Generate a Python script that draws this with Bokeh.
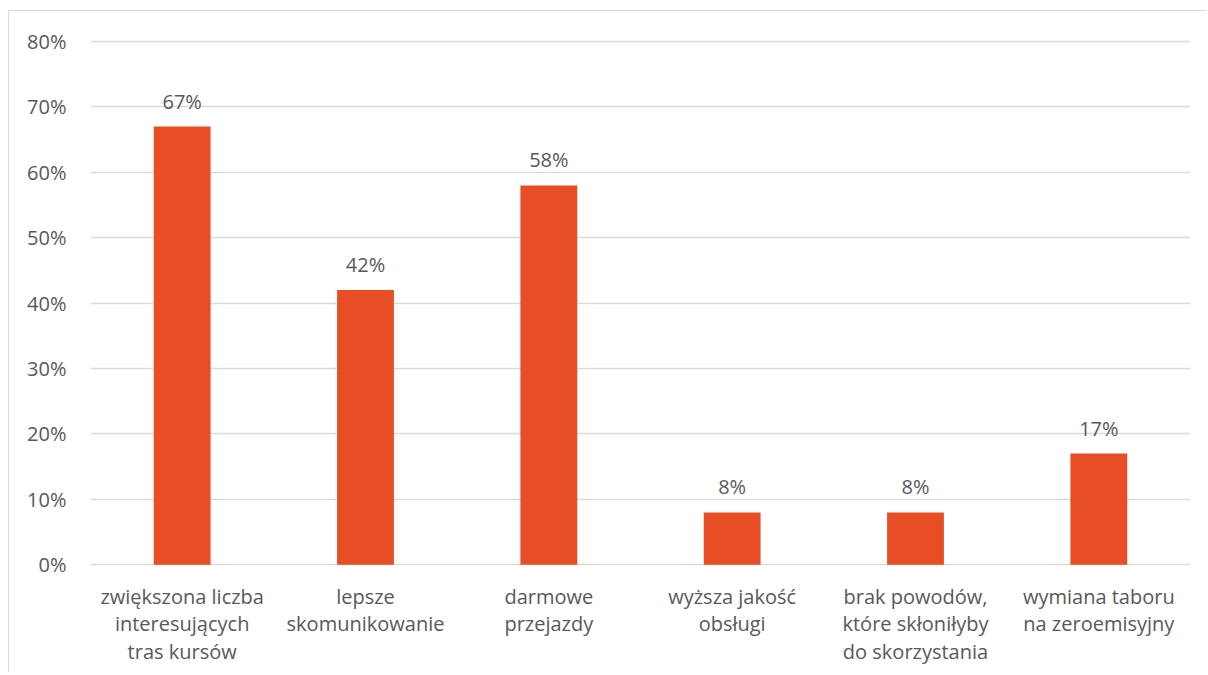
from bokeh.plotting import figure
from bokeh.models import ColumnDataSource, LabelSet, PrintfTickFormatter, FixedTicker, Range1d
from bokeh.core.properties import value
from bokeh.embed import file_html
from bokeh.resources import INLINE

categories = ["zwiększona liczba interesujących tras kursów",
              "lepsze skomunikowanie",
              "darmowe przejazdy",
              "wyższa jakość obsługi",
              "brak powodów, które skłoniłyby do skorzystania",
              "wymiana taboru na zeroemisyjny"]
tick_labels = ["zwiększona liczba\ninteresujących\ntras kursów",
               "lepsze\nskomunikowanie",
               "darmowe\nprzejazdy",
               "wyższa jakość\nobsługi",
               "brak powodów,\nktóre skłoniłyby\ndo skorzystania",
               "wymiana taboru\nna zeroemisyjny"]
values = [67, 42, 58, 8, 8, 17]
y_ticks = [0, 10, 20, 30, 40, 50, 60, 70, 80]

FONT = "Open Sans"
FS = "20px"
TXT = "#595959"
GRID = "#d9d9d9"

src = ColumnDataSource(dict(cat=categories, val=values,
                            lab=[f"{v}%" for v in values]))

# multi-line category labels, one row per text line
lc, lt, lo, ly = [], [], [], []
for c, t in zip(categories, tick_labels):
    for i, line in enumerate(t.split("\n")):
        lc.append(c)
        lt.append(line)
        lo.append(-39 - 27.5 * i)
        ly.append(0)
lsrc = ColumnDataSource(dict(cat=lc, txt=lt, off=lo, y=ly))

p = figure(x_range=categories, y_range=Range1d(-16, 80.3),
           width=1198, height=662, output_backend="svg", toolbar_location=None,
           min_border_left=81, min_border_right=17, min_border_top=28, min_border_bottom=4)
p.styles = {"border-top": "1px solid #d9d9d9", "border-left": "1px solid #d9d9d9",
            "margin-top": "10px", "margin-left": "8px"}
p.outline_line_color = None
p.background_fill_color = "white"
p.border_fill_color = "white"

p.vbar(x="cat", top="val", width=0.31, source=src, color="#E84E25", line_color=None)

labels = LabelSet(x="cat", y="val", text="lab", source=src, text_align="center",
                  text_baseline="alphabetic", y_offset=18, text_font=value(FONT),
                  text_font_size=FS, text_color=TXT)
p.add_layout(labels)

cat_labels = LabelSet(x="cat", y="y", text="txt", source=lsrc, text_align="center",
                      text_baseline="alphabetic", y_offset="off", text_font=value(FONT),
                      text_font_size=FS, text_color=TXT)
p.add_layout(cat_labels)

p.xgrid.grid_line_color = None
p.ygrid.grid_line_color = GRID
p.ygrid.grid_line_width = 1.5
p.ygrid.ticker = FixedTicker(ticks=y_ticks)

p.yaxis.ticker = FixedTicker(ticks=y_ticks)
p.yaxis.formatter = PrintfTickFormatter(format="%d%%")
p.yaxis.axis_line_color = None
p.yaxis.major_tick_line_color = None
p.yaxis.minor_tick_line_color = None
p.yaxis.major_label_standoff = 18
p.yaxis.major_label_text_font = FONT
p.yaxis.major_label_text_font_size = FS
p.yaxis.major_label_text_color = TXT

p.xaxis.visible = False
p.x_range.range_padding = 0

open("out.html", "w").write(file_html(p, INLINE))
